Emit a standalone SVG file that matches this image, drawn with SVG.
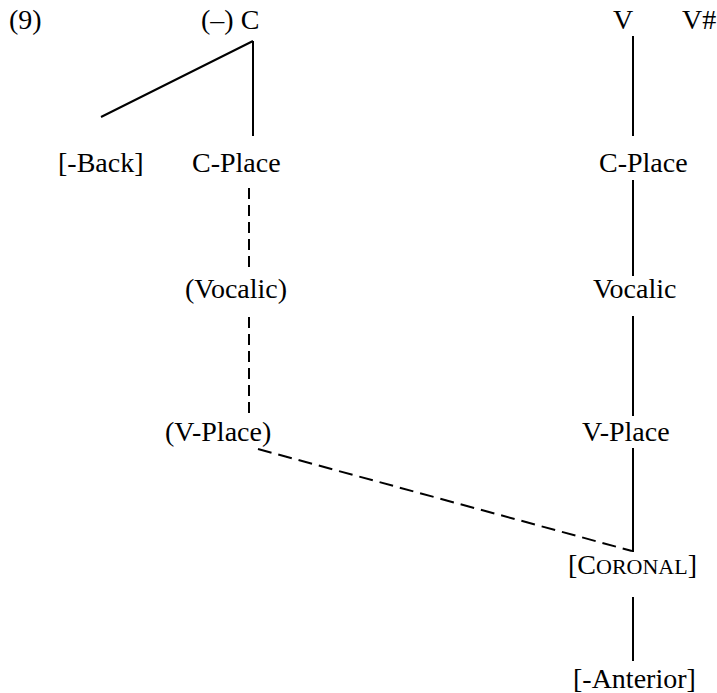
<svg xmlns="http://www.w3.org/2000/svg" width="717" height="693" viewBox="0 0 717 693">
<style>
text{font-family:"Liberation Serif",serif;font-size:28px;fill:#000}
.sc{font-size:22px}
.s{stroke:#000;stroke-width:2;fill:none}
.d{stroke:#000;stroke-width:2;fill:none;stroke-dasharray:11 6}
.dd{stroke:#000;stroke-width:2;fill:none;stroke-dasharray:14 7}
</style>
<rect width="717" height="693" fill="#fff"/>
<text id="label9" x="9" y="29">(9)</text>
<g id="nC"><text x="201" y="29">(–) C</text></g>
<g id="nV"><text x="613" y="29">V</text></g>
<g id="nVh"><text x="682" y="29">V#</text></g>
<g id="nBack"><text x="58" y="172">[-Back]</text></g>
<g id="nCPlaceL"><text x="192" y="172">C-Place</text></g>
<g id="nCPlaceR"><text x="599" y="172">C-Place</text></g>
<g id="nVocL"><text x="185" y="298">(Vocalic)</text></g>
<g id="nVocR"><text x="593" y="298">Vocalic</text></g>
<g id="nVPlL"><text x="165" y="441">(V-Place)</text></g>
<g id="nVPlR"><text x="582" y="441">V-Place</text></g>
<g id="nCor"><text x="568" y="574">[C<tspan class="sc">ORONAL</tspan>]</text></g>
<g id="nAnt"><text x="573" y="688">[-Anterior]</text></g>
<g id="connectors">
<line class="s" x1="253" y1="41" x2="101" y2="117"/>
<line class="s" x1="253" y1="41" x2="253" y2="136"/>
<line class="d" x1="249" y1="188" x2="249" y2="270"/>
<line class="d" x1="249" y1="317" x2="249" y2="417"/>
<line class="dd" x1="258" y1="449" x2="632" y2="551"/>
<line class="s" x1="633" y1="36" x2="633" y2="136"/>
<line class="s" x1="633" y1="180" x2="633" y2="276"/>
<line class="s" x1="633" y1="316" x2="633" y2="416"/>
<line class="s" x1="633" y1="448" x2="633" y2="552"/>
<line class="s" x1="633" y1="597" x2="633" y2="661"/>
</g>
</svg>
